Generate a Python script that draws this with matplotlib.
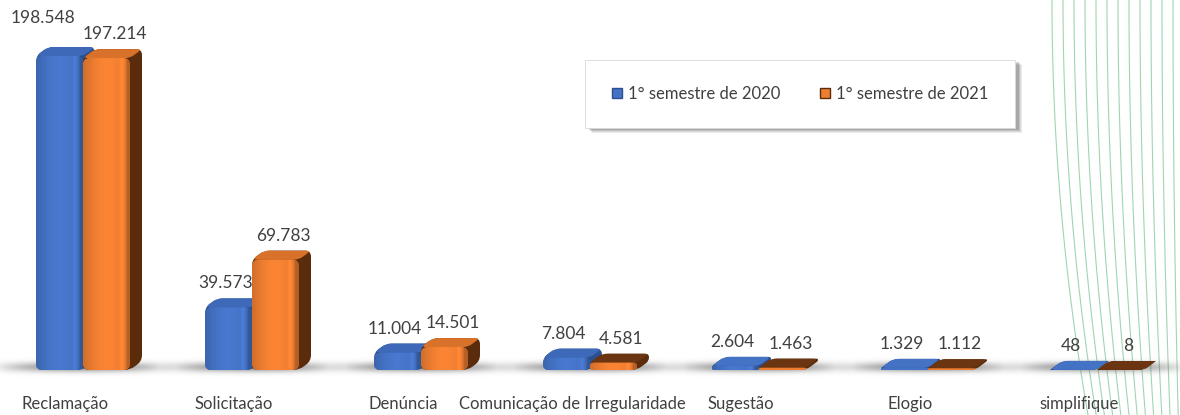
import numpy as np
import matplotlib
matplotlib.use("Agg")
import matplotlib.pyplot as plt
from matplotlib.path import Path
from matplotlib.patches import PathPatch, Rectangle, Patch
from matplotlib.lines import Line2D
from matplotlib.colors import to_rgb

# ---------------- data ----------------
categories = ["Reclamação", "Solicitação", "Denúncia", "Comunicação de Irregularidade",
              "Sugestão", "Elogio", "simplifique"]
values_2020 = [198548, 39573, 11004, 7804, 2604, 1329, 48]
values_2021 = [197214, 69783, 14501, 4581, 1463, 1112, 8]
labels_2020 = ["198.548", "39.573", "11.004", "7.804", "2.604", "1.329", "48"]
labels_2021 = ["197.214", "69.783", "14.501", "4.581", "1.463", "1.112", "8"]
series_names = ["1° semestre de 2020", "1° semestre de 2021"]

# ---------------- style ----------------
FONT = ["Lato", "DejaVu Sans"]
TXT = "#404040"
BLUE = dict(front="#4472c4", top="#3d69b8", side="#2b4f8f", top_small="#4472c4")
ORANGE = dict(front="#ed7d31", top="#d8712a", side="#5a2c0c", top_small="#6b3512")

FW, FH, DPI = 11.8, 4.15, 100
fig = plt.figure(figsize=(FW, FH), dpi=DPI)
fig.patch.set_facecolor("white")

base_px = 45          # baseline distance from bottom (px)
ax = fig.add_axes([0, base_px / 415, 1, 1 - base_px / 415])
ax.patch.set_visible(False)
ax_h_px = 415 - base_px
YMAX = max(values_2020) * ax_h_px / 314.0
first_px, step_px = 83.0, 169.0
ax.set_xlim(-first_px / step_px, (1180 - first_px) / step_px)
ax.set_ylim(0, YMAX)
PXX = 1.0 / step_px          # data x per pixel
PXY = YMAX / ax_h_px         # data y per pixel

DX, DY = 12.0, 9.0           # 3D depth in px
BW_PX = 47.0                 # front face width in px


def rounded_path(pts, r):
    pts = [np.array(p, float) for p in pts]
    n = len(pts)
    verts, codes = [], []
    for i in range(n):
        p0, p1, p2 = pts[i - 1], pts[i], pts[(i + 1) % n]
        v1, v2 = p0 - p1, p2 - p1
        l1, l2 = max(np.hypot(*v1), 1e-9), max(np.hypot(*v2), 1e-9)
        rr = min(r, l1 / 2, l2 / 2)
        a, b = p1 + v1 / l1 * rr, p1 + v2 / l2 * rr
        verts.append(a)
        codes.append(Path.MOVETO if i == 0 else Path.LINETO)
        verts += [p1, b]
        codes += [Path.CURVE3, Path.CURVE3]
    verts.append(verts[0])
    codes.append(Path.CLOSEPOLY)
    v = np.array(verts)
    v[:, 0] *= PXX
    v[:, 1] *= PXY
    return Path(v, codes)


def shade(c, f):
    r = np.array(to_rgb(c)) * f
    return np.clip(r, 0, 1)


def draw_bar(xl_data, value, col, z):
    X0 = xl_data / PXX
    X1 = X0 + BW_PX
    Y0 = 0.0
    Y1 = value / PXY
    sil = [(X0, Y0), (X1, Y0), (X1 + DX, Y0 + DY), (X1 + DX, Y1 + DY), (X0 + DX, Y1 + DY), (X0, Y1)]
    ax.add_patch(PathPatch(rounded_path(sil, 6), fc=col["side"], ec="none", zorder=z))
    topc = col["top"] if Y1 > 12 else col["top_small"]
    top = [(X0, Y1), (X1, Y1), (X1 + DX, Y1 + DY), (X0 + DX, Y1 + DY)]
    ax.add_patch(PathPatch(rounded_path(top, 5), fc=topc, ec="none", zorder=z + 0.1))
    front = [(X0, Y0), (X1, Y0), (X1, Y1), (X0, Y1)]
    fp = PathPatch(rounded_path(front, 7), fc=col["front"], ec="none", zorder=z + 0.2)
    ax.add_patch(fp)
    if Y1 > 3:
        t = np.linspace(0, 1, 64)
        prof = 0.88 + 0.18 * np.sin(np.pi * t) + 0.12 * np.exp(-((t - 0.82) / 0.05) ** 2)
        prof[t > 0.92] *= 0.85
        img = np.array([[shade(col["front"], f) for f in prof]])
        im = ax.imshow(img, extent=[X0 * PXX, X1 * PXX, 0, Y1 * PXY], aspect="auto",
                       zorder=z + 0.3, interpolation="bilinear")
        im.set_clip_path(fp)


x = np.arange(len(categories))
bw = BW_PX * PXX

# floor shadows
for xi in x:
    ny, nx = 40, 200
    yy = np.linspace(-14, 14, ny)[:, None]
    xx = np.linspace(-1, 1, nx)[None, :]
    a = 0.65 * np.exp(-((yy - 3) / 5.0) ** 2) * np.clip(1 - np.abs(xx) ** 2.0, 0, 1)
    rgba = np.zeros((ny, nx, 4))
    rgba[..., :3] = 0.35
    rgba[..., 3] = a
    ax.imshow(rgba[::-1], extent=[xi - 0.55, xi + 0.55, -14 * PXY, 14 * PXY], aspect="auto",
              zorder=1, clip_on=False, interpolation="bilinear")

for i, xi in enumerate(x):
    draw_bar(xi - bw, values_2020[i], BLUE, 3)
    draw_bar(xi, values_2021[i], ORANGE, 4)

# data labels (offsets in px; first label lifted to avoid overlap as in the source)
off_pt = 72.0 / DPI
nudge_2020 = {0: (-14, 14)}
for i, xi in enumerate(x):
    nx_, ny_ = nudge_2020.get(i, (0, 0))
    ax.annotate(labels_2020[i], (xi - bw / 2, values_2020[i]),
                xytext=((-3 + nx_) * off_pt, (DY + 7 + ny_) * off_pt),
                textcoords="offset points", ha="center", va="bottom", fontsize=12.5,
                color=TXT, family=FONT, zorder=10)
    ax.annotate(labels_2021[i], (xi + bw / 2, values_2021[i]), xytext=(8 * off_pt, (DY + 7) * off_pt),
                textcoords="offset points", ha="center", va="bottom", fontsize=12.5,
                color=TXT, family=FONT, zorder=10)

ax.set_xlim(-first_px / step_px, (1180 - first_px) / step_px)
ax.set_ylim(0, YMAX)
ax.set_xticks(x - 18 * PXX)
ax.set_xticklabels(categories, fontsize=12, color=TXT, family=FONT)
ax.tick_params(axis="x", length=0, pad=19)
ax.set_yticks([])
for s in ax.spines.values():
    s.set_visible(False)

# legend box with shadow
bx0, bx1, by_top, by_bot = 585, 1015, 60, 128
for k, al in enumerate([0.10, 0.12, 0.16, 0.22]):
    o = 5 - k
    fig.add_artist(Rectangle(((bx0 + o + 2) / 1180, 1 - (by_bot + o) / 415),
                             (bx1 - bx0) / 1180, (by_bot - by_top) / 415,
                             transform=fig.transFigure, fc=(0.3, 0.3, 0.3, al), ec="none", zorder=5))
fig.add_artist(Rectangle((bx0 / 1180, 1 - by_bot / 415), (bx1 - bx0) / 1180, (by_bot - by_top) / 415,
                         transform=fig.transFigure, fc="white", ec="#d9d9d9", lw=0.6, zorder=6))
handles = [Patch(fc=BLUE["front"], ec=BLUE["side"], lw=1.0),
           Patch(fc=ORANGE["front"], ec=ORANGE["side"], lw=1.0)]
leg = fig.legend(handles, series_names, loc="center", bbox_to_anchor=(800 / 1180, 1 - 94 / 415),
                 ncol=2, frameon=False, handlelength=0.6, handleheight=0.6, handletextpad=0.35,
                 columnspacing=2.4, prop=dict(family=FONT, size=12))
leg.set_zorder(7)
for t in leg.get_texts():
    t.set_color(TXT)

# decorative green curves on the right
ys = np.linspace(0, 415, 100)
for i in range(13):
    xt = 1052 + 11.0 * i
    sh = 36 - 2.8 * i
    xs = xt + sh * (ys / 415) ** 2
    fig.add_artist(Line2D(xs / 1180, 1 - ys / 415, transform=fig.transFigure,
                          color="#9fd6b2", lw=0.8, zorder=-1))

fig.savefig("out.png", dpi=DPI, facecolor="white")
